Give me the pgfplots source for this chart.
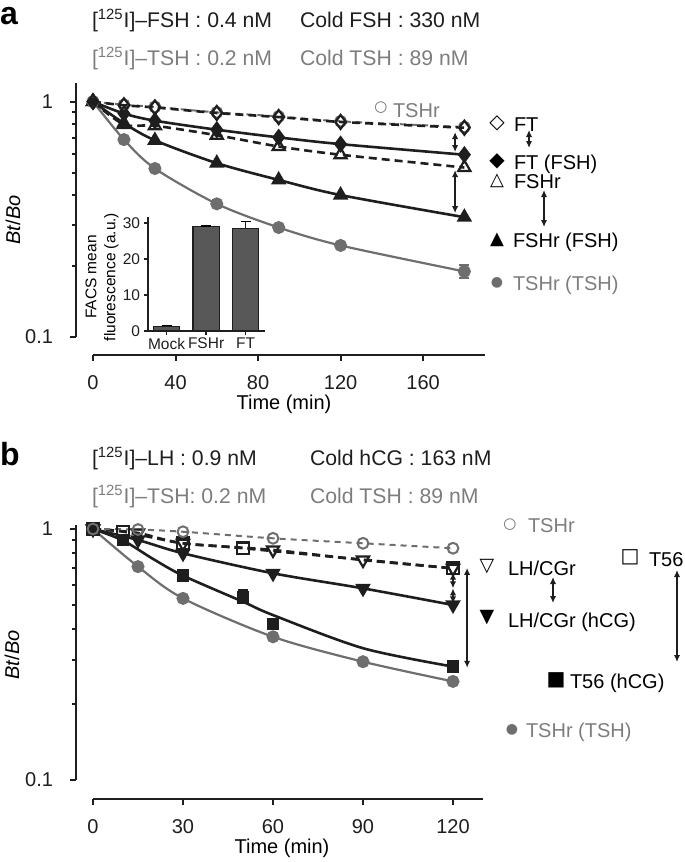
\documentclass[border=0pt]{standalone}
\usepackage{pgfplots}
\pgfplotsset{compat=1.18}
\usepackage{fontspec}
\setmainfont{Liberation Sans}
\newfontfamily\djv{DejaVu Sans}
\usetikzlibrary{arrows.meta}
\definecolor{blk}{RGB}{30,30,30}
\definecolor{gry}{RGB}{110,110,110}
\definecolor{gtxt}{RGB}{125,125,125}
\definecolor{barc}{RGB}{88,88,88}
\newcommand\fs{\fontsize{10}{12}\selectfont}
\newcommand\fh{\fontsize{10.6}{12.6}\selectfont}
\newcommand\fsi{\fontsize{7.75}{9.5}\selectfont}
\newcommand\fsym[1]{\fontsize{#1}{#1}\selectfont\djv}
\tikzset{
  sblk/.style={blk, line width=1.3pt, smooth},
  dblk/.style={blk, line width=1.3pt, smooth, dash pattern=on 4pt off 2.5pt},
  sgry/.style={gry, line width=1.1pt, smooth},
  dgry/.style={gry, line width=1pt, smooth, dash pattern=on 3pt off 2.5pt},
}
\begin{document}
\begin{tikzpicture}[every node/.style={inner sep=0pt, outer sep=0pt},
  dbl/.style={{Latex[length=3.5pt,width=3.2pt]}-{Latex[length=3.5pt,width=3.2pt]}, line width=1pt, blk}]
\path[use as bounding box] (0,0) rectangle (342.5pt,-431pt);

% ---------------- panel a ----------------
\begin{axis}[at={(38pt,-177.5pt)}, anchor=south west,
  scale only axis, clip=false, ymode=log,
  width=204.5pt, height=136pt, xmin=-8.24, xmax=190, ymin=0.0839, ymax=1.2,
  axis lines=left, separate axis lines,
  x axis line style={-, line width=1.3pt, blk, shorten <=8.5pt},
  y axis line style={-, line width=1.3pt, blk, shorten <=9pt},
  tick align=outside, major tick length=3pt, minor tick length=2pt,
  tick style={line width=1pt, blk},
  xtick={0,40,80,120,160},
  ytick={0.1,1}, yticklabels={0.1,1},
  minor ytick={0.2,0.3,0.4,0.5,0.6,0.7,0.8,0.9},
  tick label style={font=\fs, text=blk},
  xticklabel style={yshift=-7.5pt}, yticklabel style={xshift=-8.5pt},
  /pgf/number format/assume math mode=true]
\addplot[sgry, mark=*, mark size=2.7pt, mark options={fill=gry, draw=gry}]
  coordinates {(0,1)(15,0.69)(30,0.52)(60,0.368)(90,0.292)(120,0.245)(180,0.19)};
\addplot[gry, mark=none, forget plot, error bars/.cd, y dir=both, y explicit,
  error bar style={line width=1pt}, error mark options={rotate=90, mark size=2.5pt, line width=1pt}]
  coordinates {(180,0.19) +- (0,0.012)};
\addplot[sblk, mark=triangle*, mark size=3.2pt, mark options={fill=blk}]
  coordinates {(0,1)(15,0.81)(30,0.685)(60,0.548)(90,0.465)(120,0.401)(180,0.323)};
\addplot[dblk, mark=triangle, mark size=3.5pt, mark options={solid, fill=white, line width=1.1pt}]
  coordinates {(0,1)(15,0.80)(30,0.79)(60,0.72)(90,0.645)(120,0.595)(180,0.525)};
\addplot[sblk, mark=diamond*, mark size=3.3pt, mark options={fill=blk}]
  coordinates {(0,1)(15,0.89)(30,0.83)(60,0.76)(90,0.705)(120,0.66)(180,0.595)};
\addplot[dgry, mark=o, mark size=2.7pt, mark options={solid, fill=white, line width=1pt}]
  coordinates {(0,1)(15,0.97)(30,0.95)(60,0.9)(90,0.865)(120,0.825)(180,0.78)};
\addplot[dblk, mark=diamond, mark size=3.5pt, mark options={solid, line width=1.1pt}]
  coordinates {(0,1)(15,0.965)(30,0.945)(60,0.895)(90,0.86)(120,0.82)(180,0.775)};
\draw[dbl] (axis cs:175.5,0.743) -- (axis cs:175.5,0.611);
\draw[dbl] (axis cs:175.5,0.512) -- (axis cs:175.5,0.336);
\end{axis}

% inset
\begin{axis}[at={(74pt,-165.5pt)}, anchor=south west, scale only axis,
  width=58.5pt, height=57pt, xmin=-0.47, xmax=2.49, ymin=0, ymax=31.7,
  axis lines=left, axis line style={-, line width=0.8pt, blk},
  tick align=outside, major tick length=2pt, tick style={line width=0.8pt, blk},
  xtick={0,1,2}, xticklabels={Mock,FSHr,FT}, ytick={0,10,20,30},
  tick label style={font=\fsi, text=blk},
  xticklabel style={yshift=-1.5pt}, yticklabel style={xshift=-2pt},
  clip=false, /pgf/number format/assume math mode=true]
\addplot[ybar, bar width=0.66, fill=barc, draw=blk, line width=0.6pt,
  error bars/.cd, y dir=plus, y explicit, error bar style={line width=0.8pt},
  error mark options={rotate=90, mark size=2.5pt, line width=0.8pt}]
  coordinates {(0,1.3) +- (0,0.2) (1,29.0) +- (0,0.2) (2,28.6) +- (0,1.9)};
\end{axis}

% ---------------- panel b ----------------
\begin{axis}[at={(38pt,-399.5pt)}, anchor=south west,
  scale only axis, clip=false, ymode=log,
  width=203.5pt, height=137pt, xmin=-5.667, xmax=130, ymin=0.084, ymax=1.037,
  axis lines=left, separate axis lines,
  x axis line style={-, line width=1.3pt, blk, shorten <=8.5pt},
  y axis line style={-, line width=1.3pt, blk, shorten <=9.5pt},
  tick align=outside, major tick length=3pt, minor tick length=2pt,
  tick style={line width=1pt, blk},
  xtick={0,30,60,90,120},
  ytick={0.1,1}, yticklabels={0.1,1},
  minor ytick={0.2,0.3,0.4,0.5,0.6,0.7,0.8,0.9},
  tick label style={font=\fs, text=blk},
  xticklabel style={yshift=-7.5pt}, yticklabel style={xshift=-8.5pt},
  /pgf/number format/assume math mode=true]
\addplot[sgry, mark=*, mark size=2.7pt, mark options={fill=gry, draw=gry}]
  coordinates {(0,1)(15,0.708)(30,0.529)(60,0.372)(90,0.296)(120,0.247)};
\addplot[sblk, mark=none]
  coordinates {(0,1)(10,0.90)(20,0.76)(30,0.652)(50,0.513)(60,0.454)(90,0.335)(120,0.283)};
\addplot[blk, only marks, mark=square*, mark size=2.9pt, mark options={fill=blk},
  error bars/.cd, y dir=plus, y explicit, error bar style={line width=1pt},
  error mark options={rotate=90, mark size=2.5pt, line width=1pt}]
  coordinates {(0,1) +- (0,0) (10,0.904) +- (0,0) (30,0.652) +- (0,0) (50,0.534) +- (0,0.037) (60,0.418) +- (0,0) (120,0.283) +- (0,0)};
\addplot[sblk, mark=triangle*, mark size=3.2pt, mark options={fill=blk, rotate=180}]
  coordinates {(0,1)(15,0.904)(30,0.80)(60,0.666)(90,0.58)(120,0.498)};
\addplot[dblk, mark=square, mark size=2.9pt, mark options={solid, fill=white, line width=1.1pt}]
  coordinates {(0,1)(10,0.976)(30,0.877)(50,0.838)(120,0.697)};
\addplot[dblk, mark=triangle, mark size=3.5pt, mark options={solid, rotate=180, line width=1.1pt}]
  coordinates {(0,1)(15,0.964)(30,0.877)(60,0.825)(90,0.752)(120,0.697)};
\addplot[dgry, mark=o, mark size=2.7pt, mark options={solid, fill=white, line width=1pt}]
  coordinates {(0,1)(15,0.995)(30,0.975)(60,0.918)(90,0.877)(120,0.838)};
\draw[dbl] (axis cs:120,0.67) -- (axis cs:120,0.58);
\draw[dbl] (axis cs:120,0.58) -- (axis cs:120,0.505);
\draw[dbl] (axis cs:124.7,0.70) -- (axis cs:124.7,0.28);
\end{axis}

% ---------------- text (pixel coordinates) ----------------
\begin{scope}[x=0.5pt,y=-0.5pt]
\node[anchor=base west, font=\bfseries\fontsize{16}{18}\selectfont] at (0,25) {a};
\node[anchor=base west, font=\fh, text=blk] at (92,27) {[\textsuperscript{125}I]–FSH : 0.4 nM};
\node[anchor=base west, font=\fh, text=blk] at (300,27) {Cold FSH : 330 nM};
\node[anchor=base west, font=\fh, text=gtxt] at (92,65) {[\textsuperscript{125}I]–TSH : 0.2 nM};
\node[anchor=base west, font=\fh, text=gtxt] at (300,65) {Cold TSH : 89 nM};
\node[rotate=90, font=\fs] at (13,220) {\textit{Bt}/\textit{Bo}};
\node[font=\fs] at (284,404) {Time (min)};
\node[rotate=90, font=\fsi, align=center] at (102,277) {FACS mean\\fluorescence (a.u.)};
\node[font=\fsym{7.5}, text=gry] at (381,108) {○};
\node[anchor=base west, font=\fs, text=gtxt] at (393,117) {TSHr};
\node[font=\fsym{10}] at (497,123) {◇};
\node[anchor=base west, font=\fs] at (514,131) {FT};
\draw[dbl] (529,130) -- (529,148);
\node[font=\fsym{10}] at (497,161) {◆};
\node[anchor=base west, font=\fs] at (514,169) {FT (FSH)};
\node[font=\fsym{9}] at (497,181) {△};
\node[anchor=base west, font=\fs] at (514,188) {FSHr};
\draw[dbl] (544,190) -- (544,227);
\node[font=\fsym{9}] at (497,240) {▲};
\node[anchor=base west, font=\fs] at (513,247) {FSHr (FSH)};
\node[font=\fsym{7}, text=gry] at (497,283) {●};
\node[anchor=base west, font=\fs, text=gtxt] at (513,290) {TSHr (TSH)};
\node[anchor=base west, font=\bfseries\fontsize{16}{18}\selectfont] at (0,465) {b};
\node[anchor=base west, font=\fh, text=blk] at (92,465) {[\textsuperscript{125}I]–LH : 0.9 nM};
\node[anchor=base west, font=\fh, text=blk] at (310,465) {Cold hCG : 163 nM};
\node[anchor=base west, font=\fh, text=gtxt] at (92,503) {[\textsuperscript{125}I]–TSH: 0.2 nM};
\node[anchor=base west, font=\fh, text=gtxt] at (310,503) {Cold TSH : 89 nM};
\node[rotate=90, font=\fs] at (12,655) {\textit{Bt}/\textit{Bo}};
\node[font=\fs] at (282,848) {Time (min)};
\node[font=\fsym{7.5}, text=gry] at (510,525) {○};
\node[anchor=base west, font=\fs, text=gtxt] at (528,532) {TSHr};
\node[font=\fsym{9.5}] at (487,567) {▽};
\node[anchor=base west, font=\fs] at (508,575) {LH/CGr};
\draw[dbl] (553,577) -- (553,603);
\node[font=\fsym{9.5}] at (487,618) {▼};
\node[anchor=base west, font=\fs] at (508,627) {LH/CGr (hCG)};
\node[font=\fsym{10}] at (630,557) {□};
\node[anchor=base west, font=\fs] at (649,566) {T56};
\draw[dbl] (677,570) -- (677,662);
\node[font=\fsym{10}] at (556,680) {■};
\node[anchor=base west, font=\fs] at (570,688) {T56 (hCG)};
\node[font=\fsym{7}, text=gry] at (512,730) {●};
\node[anchor=base west, font=\fs, text=gtxt] at (526,737) {TSHr (TSH)};
\end{scope}
\end{tikzpicture}
\end{document}
